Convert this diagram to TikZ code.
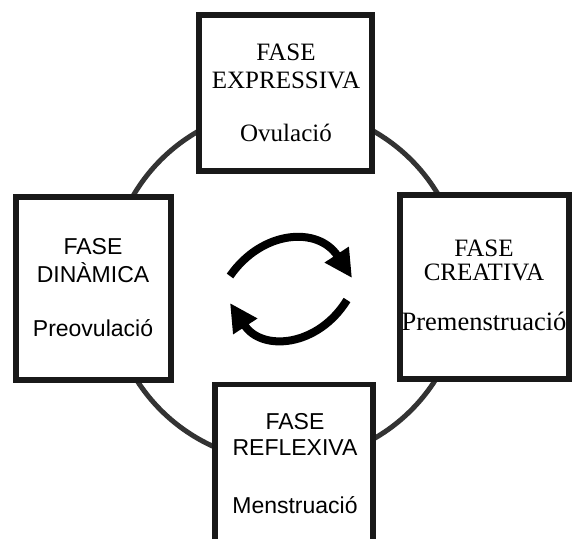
\documentclass[tikz,border=0pt]{standalone}
\usepackage{fontspec}
\setmainfont{Liberation Serif}
\setsansfont{Liberation Sans}
\usetikzlibrary{arrows.meta}

\tikzset{
    phase/.style={draw=black!90, line width=5.5pt, fill=white, inner sep=0pt},
    serif/.style={font=\rmfamily\fontsize{25}{29}\selectfont, inner sep=0pt},
    sans/.style={font=\sffamily\fontsize{23}{27}\selectfont, inner sep=0pt},
    cycle/.style={line width=8pt, -{Triangle[length=28pt,width=27pt]}}
}

\begin{document}
\begin{tikzpicture}[x=1pt, y=-1pt]
        \useasboundingbox (0, 0) rectangle (572, 538);
        \clip (0, 0) rectangle (572, 538);

        % circle behind the four boxes
        \coordinate (centre) at (286, 285);
        \draw[line width=5pt, black!80] (centre) circle[radius=177];

        \node[phase, minimum width=173, minimum height=156] (topbox) at (285.5, 93) {};
        \node[phase, minimum width=155, minimum height=183] (leftbox) at (93.5, 288.5) {};
        \node[phase, minimum width=169, minimum height=184] (rightbox) at (484.5, 287) {};
        \node[phase, minimum width=158, minimum height=175] (bottombox) at (294, 472) {};

        \node[serif] (top1) at (286, 52) {FASE};
        \node[serif] (top2) at (286, 80) {EXPRESSIVA};
        \node[serif] (top3) at (286, 133) {Ovulació};

        \node[sans] (left1) at (93, 247) {FASE};
        \node[sans] (left2) at (93, 273) {DINÀMICA};
        \node[sans] (left3) at (93, 328) {Preovulació};

        \node[serif] (right1) at (484, 248) {FASE};
        \node[serif] (right2) at (484, 272) {CREATIVA};
        \node[serif, font=\rmfamily\fontsize{26.5}{30}\selectfont] (right3) at (484, 321) {Premenstruació};

        \node[sans] (bottom1) at (295, 422) {FASE};
        \node[sans] (bottom2) at (295, 448) {REFLEXIVA};
        \node[sans] (bottom3) at (295, 505) {Menstruació};

        % the two turning arrows
        \coordinate (a1) at (230, 276);
        \coordinate (a2) at (352, 278);
        \coordinate (b1) at (347, 300);
        \coordinate (b2) at (230, 303);
        \draw[cycle] (a1) .. controls (262, 230) and (318, 226) .. (a2);
        \draw[cycle] (b1) .. controls (318, 347) and (262, 352) .. (b2);
\end{tikzpicture}
\end{document}
